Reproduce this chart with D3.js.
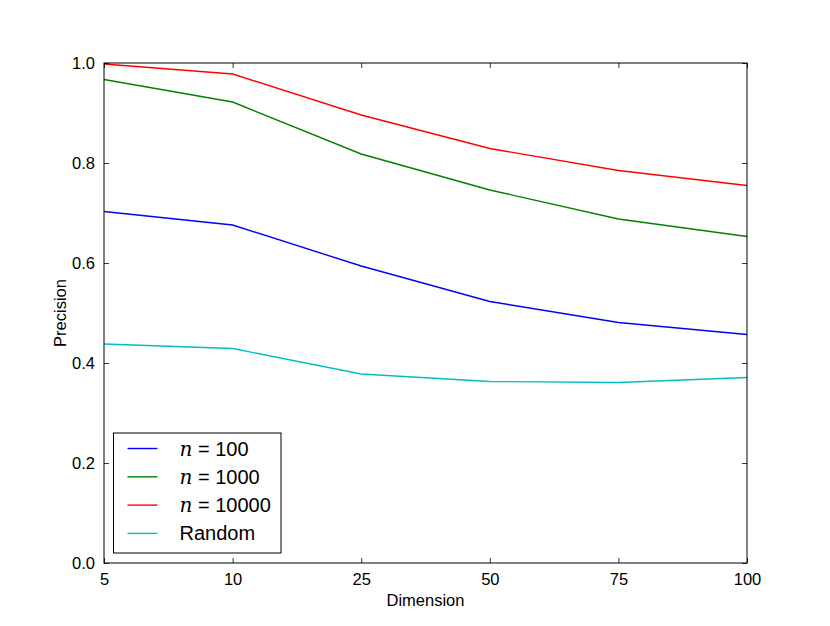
<!DOCTYPE html>
<html>
<head>
<meta charset="utf-8">
<script src="https://cdn.jsdelivr.net/npm/d3@7"></script>
<style>
  body { margin: 0; background: #fff; }
  text { font-family: "Liberation Sans", Arial, sans-serif; }
</style>
</head>
<body>
<div id="chart"></div>
<script>
// Datos del grafico
var dimensiones = ["5", "10", "25", "50", "75", "100"];
var n100 = [0.703, 0.676, 0.594, 0.523, 0.481, 0.457];
var n1000 = [0.967, 0.922, 0.818, 0.746, 0.688, 0.653];
var n10000 = [0.998, 0.978, 0.896, 0.829, 0.785, 0.755];
var aleatorio = [0.438, 0.429, 0.378, 0.363, 0.361, 0.371];
var yTicks = [0.0, 0.2, 0.4, 0.6, 0.8, 1.0];

var series = [
    { math: "n", label: " = 100", values: n100, color: "#0000ff" },
    { math: "n", label: " = 1000", values: n1000, color: "#008000" },
    { math: "n", label: " = 10000", values: n10000, color: "#ff0000" },
    { math: "", label: "Random", values: aleatorio, color: "#00bfbf" }
];

var width = 830, height = 626;
var margin = { top: 63, right: 83, bottom: 63, left: 104 };
var w = width - margin.left - margin.right;
var h = height - margin.top - margin.bottom;

var svg = d3.select("#chart").append("svg")
    .attr("width", width)
    .attr("height", height);

var g = svg.append("g")
    .attr("transform", "translate(" + margin.left + "," + margin.top + ")");

var x = d3.scalePoint().domain(dimensiones).range([0, w]);
var y = d3.scaleLinear().domain([0, 1]).range([h, 0]);

// Lineas
var line = d3.line()
    .x(function(d, i) { return x(dimensiones[i]); })
    .y(function(d) { return y(d); });

series.forEach(function(s) {
    g.append("path")
        .datum(s.values)
        .attr("fill", "none")
        .attr("stroke", s.color)
        .attr("stroke-width", 1.4)
        .attr("d", line);
});

// Ejes (ticks hacia adentro)
function estilo(sel) {
    sel.select(".domain").remove();
    sel.selectAll(".tick line").attr("stroke", "#000").attr("stroke-width", 0.8);
    sel.selectAll(".tick text").attr("fill", "#000").style("font-size", "16.5px")
        .style("font-family", "Liberation Sans, Arial, sans-serif");
}

g.append("g")
    .attr("transform", "translate(0," + h + ")")
    .call(d3.axisBottom(x).tickSizeInner(-5).tickSizeOuter(0).tickPadding(10))
    .call(estilo);

g.append("g")
    .call(d3.axisTop(x).tickSizeInner(-5).tickSizeOuter(0).tickFormat(""))
    .call(estilo);

g.append("g")
    .call(d3.axisLeft(y).tickValues(yTicks).tickFormat(d3.format(".1f"))
        .tickSizeInner(-5).tickSizeOuter(0).tickPadding(9))
    .call(estilo);

g.append("g")
    .attr("transform", "translate(" + w + ",0)")
    .call(d3.axisRight(y).tickValues(yTicks).tickSizeInner(-5).tickSizeOuter(0).tickFormat(""))
    .call(estilo);

// Marco
g.append("rect")
    .attr("width", w)
    .attr("height", h)
    .attr("fill", "none")
    .attr("stroke", "#000")
    .attr("stroke-width", 1);

// Etiquetas de ejes
svg.append("text")
    .attr("x", margin.left + w / 2)
    .attr("y", 606)
    .attr("text-anchor", "middle")
    .style("font-size", "16.5px")
    .text("Dimension");

svg.append("text")
    .attr("transform", "translate(66," + (margin.top + h / 2) + ") rotate(-90)")
    .attr("text-anchor", "middle")
    .style("font-size", "16.5px")
    .text("Precision");

// Leyenda
var legend = svg.append("g").attr("transform", "translate(113.5,433)");
legend.append("rect")
    .attr("width", 167.5)
    .attr("height", 120)
    .attr("fill", "#fff")
    .attr("stroke", "#000")
    .attr("stroke-width", 1);

series.forEach(function(s, i) {
    var yy = 15.5 + i * 28.3;
    legend.append("line")
        .attr("x1", 14).attr("x2", 44)
        .attr("y1", yy).attr("y2", yy)
        .attr("stroke", s.color)
        .attr("stroke-width", 1.4);
    var t = legend.append("text")
        .attr("x", 66)
        .attr("y", yy + 7)
        .style("font-size", "20px");
    if (s.math) {
        t.append("tspan")
            .style("font-family", "DejaVu Serif, serif")
            .style("font-style", "italic")
            .text(s.math);
    }
    t.append("tspan").text(s.label);
});
</script>
</body>
</html>
